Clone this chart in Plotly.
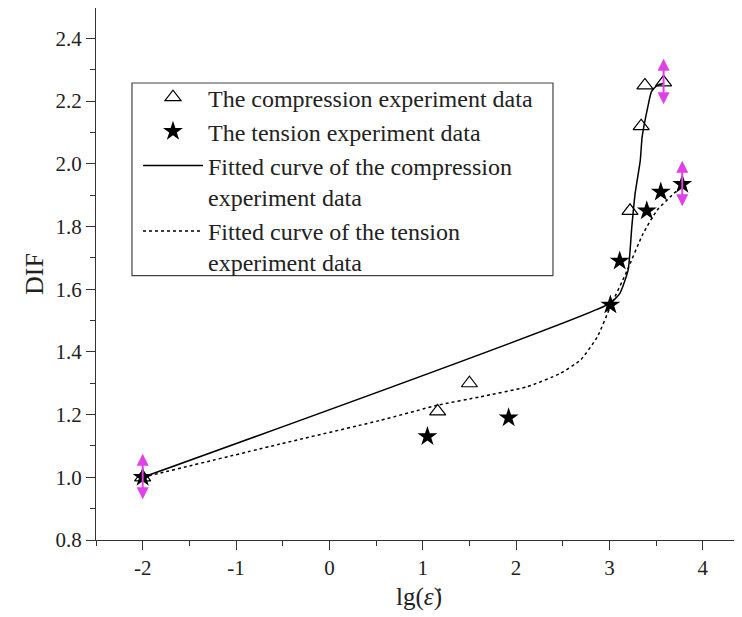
import plotly.graph_objects as go

# measured points
comp_x = [-2.0, 1.16, 1.50, 3.22, 3.34, 3.38, 3.58]
comp_y = [1.00, 1.21, 1.30, 1.85, 2.12, 2.25, 2.26]

tens_x = [-2.0, 1.05, 1.92, 3.01, 3.11, 3.40, 3.55, 3.78]
tens_y = [1.00, 1.13, 1.19, 1.55, 1.69, 1.85, 1.91, 1.935]

# fitted curves
comp_fit_x = [-2.0, 3.0, 3.11, 3.2, 3.24, 3.275, 3.33, 3.35, 3.41, 3.45, 3.51, 3.58]
comp_fit_y = [1.0, 1.554, 1.586, 1.661, 1.80, 1.905, 2.01, 2.085, 2.18, 2.23, 2.25, 2.257]

tens_fit_x = [-2.0, -0.53, 0.55, 1.16, 1.62, 2.12, 2.47, 2.69, 2.87, 3.01, 3.19, 3.36, 3.51, 3.65, 3.78]
tens_fit_y = [1.0, 1.106, 1.182, 1.23, 1.257, 1.289, 1.331, 1.374, 1.448, 1.544, 1.66, 1.777, 1.852, 1.894, 1.93]

# magenta double arrows
arrow_x = [-2.0, 3.58, 3.78]
arrow_y = [1.0, 2.26, 1.935]
arrow_half = 0.075

x_ticks = [-2, -1, 0, 1, 2, 3, 4]
y_ticks = [0.8, 1.0, 1.2, 1.4, 1.6, 1.8, 2.0, 2.2, 2.4]

SERIF = "Liberation Serif, Times New Roman, serif"

fig = go.Figure()
fig.add_trace(go.Scatter(
    x=comp_x, y=comp_y, mode="markers",
    name="The compression experiment data",
    marker={"symbol": "triangle-up-open", "size": 14, "color": "black", "line": {"width": 1.2}},
))
fig.add_trace(go.Scatter(
    x=tens_x, y=tens_y, mode="markers",
    name="The tension experiment data",
    marker={"symbol": "star", "size": 15, "color": "black"},
))
fig.add_trace(go.Scatter(
    x=comp_fit_x, y=comp_fit_y, mode="lines",
    name="Fitted curve of the compression<br>experiment data",
    line={"color": "black", "width": 1.5, "shape": "spline", "smoothing": 0.5},
))
fig.add_trace(go.Scatter(
    x=tens_fit_x, y=tens_fit_y, mode="lines",
    name="Fitted curve of the tension<br>experiment data",
    line={"color": "black", "width": 1.5, "dash": "3px,3px", "shape": "spline", "smoothing": 0.5},
))

for ax_, ay_ in zip(arrow_x, arrow_y):
    fig.add_annotation(
        x=ax_, y=ay_ + arrow_half, ax=ax_, ay=ay_ - arrow_half,
        xref="x", yref="y", axref="x", ayref="y",
        text="", showarrow=True, arrowhead=2, arrowsize=1.2, arrowwidth=2,
        arrowside="end+start", arrowcolor="#e040e8",
    )

# legend frame
fig.add_shape(type="rect", xref="paper", yref="paper",
              x0=0.0557, x1=0.7074, y0=0.497, y1=0.859,
              line={"color": "#444", "width": 1.2}, fillcolor="rgba(0,0,0,0)")

fig.update_layout(
    width=742, height=617,
    margin={"l": 88, "r": 8, "t": 0, "b": 85},
    paper_bgcolor="white", plot_bgcolor="white",
    font={"family": SERIF, "size": 21, "color": "#222"},
    legend={
        "x": 0.065, "y": 0.874, "xanchor": "left", "yanchor": "top",
        "borderwidth": 0, "bgcolor": "rgba(0,0,0,0)",
        "font": {"family": SERIF, "size": 24, "color": "#222"},
        "valign": "top", "itemwidth": 60, "tracegroupgap": 0,
    },
    xaxis={
        "range": [-2.5, 4.42], "showgrid": False, "zeroline": False, "automargin": False,
        "showline": True, "linecolor": "#333", "linewidth": 1.2,
        "ticks": "outside", "ticklen": 9, "tickcolor": "#333",
        "tickvals": x_ticks, "ticktext": [str(v) for v in x_ticks],
        "minor": {"dtick": 0.5, "tick0": -2, "ticks": "outside", "ticklen": 5, "tickcolor": "#333"},
        "title": {"text": "lg(<i>ε̇</i>)", "font": {"size": 25}, "standoff": 8},
    },
    yaxis={
        "range": [0.8, 2.497], "showgrid": False, "zeroline": False, "automargin": False,
        "showline": True, "linecolor": "#333", "linewidth": 1.2,
        "ticks": "outside", "ticklen": 9, "tickcolor": "#333",
        "tickvals": y_ticks, "ticktext": [f"{v:.1f}" for v in y_ticks],
        "minor": {"dtick": 0.1, "tick0": 0.8, "ticks": "outside", "ticklen": 5, "tickcolor": "#333"},
        "title": {"text": "DIF", "font": {"size": 26}, "standoff": 4},
    },
)

fig.write_html("out.html")
